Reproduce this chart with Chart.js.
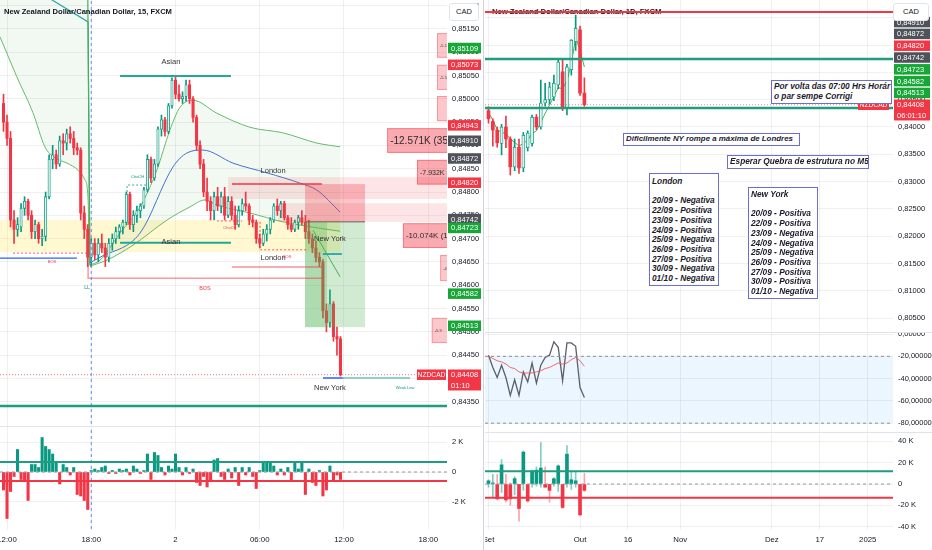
<!DOCTYPE html>
<html><head><meta charset="utf-8">
<script src="https://cdn.jsdelivr.net/npm/chart.js@4.4.1/dist/chart.umd.min.js"></script>
<style>
html,body{margin:0;padding:0;background:#fff;width:932px;height:550px;overflow:hidden;font-family:"Liberation Sans",Arial,sans-serif;}
canvas{position:absolute;}
.title{position:absolute;font-size:7.6px;font-weight:600;color:#131722;line-height:10px;white-space:nowrap;}
.cad{position:absolute;top:3px;height:18px;box-sizing:border-box;border:1px solid #e0e3eb;border-radius:3px;background:#fff;font-size:7.5px;color:#131722;line-height:16px;text-align:center;}
.sep{position:absolute;background:#e0e3eb;}
.note{position:absolute;box-sizing:border-box;border:1px solid #6d6dd9;background:#fff;font:italic bold 8.3px "Liberation Sans",Arial,sans-serif;color:#1b1b2b;line-height:9.7px;white-space:pre;overflow:hidden;padding:1px 2px;}
</style></head><body>

<div class="title" style="left:492px;top:7px;z-index:0">New Zealand Dollar/Canadian Dollar, 1D, FXCM</div>

<canvas id="lMain" width="482" height="426" style="left:0;top:0"></canvas>
<canvas id="lDelta" width="482" height="124" style="left:0;top:426px"></canvas>
<canvas id="rMain" width="447" height="332" style="left:485px;top:0"></canvas>
<canvas id="rWr" width="447" height="100" style="left:485px;top:332px"></canvas>
<canvas id="rDelta" width="447" height="118" style="left:485px;top:432px"></canvas>

<div class="title" style="left:4px;top:7px">New Zealand Dollar/Canadian Dollar, 15, FXCM</div>
<div class="cad" style="left:449px;width:30px">CAD</div>
<div class="cad" style="left:893px;width:36px">CAD</div>
<div class="sep" style="left:0;top:426px;width:482px;height:1px"></div>
<div class="sep" style="left:483px;top:0;width:1px;height:550px;background:#d1d4dc"></div>
<div class="sep" style="left:485px;top:332px;width:447px;height:1px"></div>
<div class="sep" style="left:485px;top:432px;width:447px;height:1px"></div>

<div class="note" style="left:771px;top:80px;width:121px;height:24px;padding-top:1px">Por volta das 07:00 Hrs Horár
o par sempe Corrigi</div>
<div class="note" style="left:623px;top:133px;width:177px;height:13px;padding-top:0;font-size:7.9px">Dificilmente NY rompe a máxima de Londres</div>
<div class="note" style="left:727px;top:155px;width:142px;height:14px;padding-top:1px">Esperar Quebra de estrutura no M5</div>
<div class="note" style="left:649px;top:173px;width:70px;height:113px;padding-top:3px">London

20/09 - Negativa
22/09 - Positiva
23/09 - Positiva
24/09 - Positiva
25/09 - Negativa
26/09 - Positiva
27/09 - Positiva
30/09 - Negativa
01/10 - Negativa</div>
<div class="note" style="left:748px;top:187px;width:70px;height:112px;padding-top:2px">New York

20/09 - Positiva
22/09 - Positiva
23/09 - Negativa
24/09 - Negativa
25/09 - Negativa
26/09 - Positiva
27/09 - Positiva
30/09 - Positiva
01/10 - Negativa</div>

<script>
// ================= DATA =================
// ---- 15 min chart (index 0 = 12:00 day 1, one unit = 15 min) ----
const lStart = -1;
const lOpen = [
 .84990,.84950,.84915,.84740,.84720,.84725,.84765,.84780,.84750,.84715,
 .84730,.84700,.84705,.84790,.84870,.84880,.84860,.84910,.84905,.84925,
 .84915,.84895,.84890,.84755,.84720,.84660,.84690,.84665,.84690,.84680,
 .84660,.84690,.84700,.84715,.84725,.84735,.84795,.84730,.84750,.84760,
 .84770,.84805,.84870,.84830,.84860,.84935,.84955,.84930,.84985,.85040,
 .85010,.85000,.85005,.85030,.85000,.84960,.84900,.84860,.84800,.84780,
 .84760,.84790,.84770,.84790,.84750,.84780,.84750,.84730,.84760,.84775,
 .84770,.84740,.84735,.84700,.84690,.84710,.84720,.84740,.84770,.84760,
 .84775,.84745,.84730,.84720,.84735,.84745,.84735,.84715,.84700,.84680,
 .84660,.84650,.84545,.84520,.84560,.84490,.84485];
const lHigh = [
 .85010,.84965,.84930,.84760,.84745,.84775,.84790,.84785,.84760,.84740,
 .84735,.84720,.84800,.84880,.84900,.84890,.84920,.84925,.84935,.84940,
 .84930,.84905,.84895,.84770,.84730,.84700,.84700,.84700,.84710,.84690,
 .84700,.84710,.84725,.84730,.84740,.84800,.84800,.84760,.84770,.84775,
 .84810,.84880,.84875,.84870,.84940,.84965,.84960,.84990,.85045,.85050,
 .85030,.85015,.85040,.85040,.85005,.84965,.84910,.84870,.84830,.84790,
 .84800,.84810,.84800,.84810,.84790,.84790,.84770,.84770,.84785,.84800,
 .84775,.84750,.84740,.84710,.84720,.84730,.84745,.84775,.84785,.84780,
 .84780,.84750,.84745,.84740,.84750,.84760,.84750,.84740,.84710,.84695,
 .84670,.84655,.84560,.84590,.84565,.84510,.84490];
const lLow = [
 .84930,.84900,.84725,.84690,.84705,.84715,.84750,.84740,.84700,.84700,
 .84690,.84685,.84695,.84785,.84850,.84850,.84855,.84880,.84890,.84905,
 .84880,.84880,.84740,.84700,.84640,.84640,.84655,.84650,.84670,.84640,
 .84650,.84675,.84690,.84700,.84710,.84730,.84720,.84715,.84735,.84745,
 .84765,.84800,.84820,.84825,.84855,.84920,.84920,.84925,.84980,.85000,
 .84995,.84990,.84995,.84990,.84950,.84890,.84850,.84790,.84760,.84740,
 .84740,.84760,.84755,.84740,.84745,.84740,.84720,.84725,.84750,.84760,
 .84730,.84725,.84690,.84680,.84685,.84695,.84710,.84735,.84750,.84745,
 .84740,.84720,.84715,.84715,.84720,.84730,.84700,.84690,.84670,.84650,
 .84640,.84530,.84500,.84510,.84480,.84450,.84405];
const lClose = [
 .84950,.84915,.84740,.84720,.84730,.84765,.84780,.84750,.84715,.84730,
 .84700,.84705,.84790,.84870,.84880,.84860,.84910,.84905,.84925,.84915,
 .84895,.84890,.84755,.84720,.84660,.84690,.84665,.84690,.84680,.84660,
 .84690,.84700,.84715,.84725,.84735,.84795,.84730,.84750,.84760,.84770,
 .84805,.84870,.84830,.84860,.84935,.84955,.84930,.84985,.85040,.85010,
 .85000,.85005,.85030,.85000,.84960,.84900,.84860,.84800,.84780,.84760,
 .84790,.84770,.84790,.84750,.84780,.84750,.84730,.84760,.84775,.84770,
 .84740,.84735,.84700,.84690,.84710,.84720,.84740,.84770,.84760,.84775,
 .84745,.84730,.84720,.84735,.84745,.84735,.84715,.84700,.84680,.84660,
 .84650,.84545,.84520,.84560,.84490,.84485,.84408];
const lDelta = [
 -1200,-3100,-1300,-300,1500,-500,-600,-1900,500,500,
 300,2300,1700,1500,1200,700,-800,500,300,-200,
 300,-1500,-1600,-1900,-2500,100,200,100,300,400,
 -100,100,-100,200,100,200,-200,400,200,-100,
 100,1200,-500,1300,1100,300,-200,400,200,1200,
 300,-200,300,-100,200,-700,-900,-300,-1000,-600,
 800,900,-300,-500,200,-400,300,-900,300,-200,
 300,-300,-1100,100,700,700,600,400,-200,200,
 -200,300,-600,600,200,700,-1500,200,-700,-900,
 100,-1600,-1200,400,-600,-200,-500];
const lDeltaUpper = 670, lDeltaLower = -600;
const lTimeTicks = [0,24,48,72,96,120];
const lTimeLabels = ['12:00','18:00','2','06:00','12:00','18:00'];
const lPriceTicks = [0.8435,0.844,0.8445,0.845,0.8455,0.846,0.8465,0.847,0.8475,0.848,0.8485,0.849,0.8495,0.85,0.8505,0.851,0.8515,0.852];
const lDeltaTicks = [-2000,0,2000];
// VWAP bands [bar index, price]
const vw1Lower = [[-2,.85133],[2.8,.85047],[7.4,.84970],[10.8,.84897],[13.7,.84873],[17.1,.84862],[20.2,.84847],[22.2,.84826],[23.1,.84783],[23.4,.84643]];
const vw1Upper = [[23.0,.85230],[23.6,.84643]];
const vw1Mid = [[12.2,.85215],[23.1,.85165],[23.6,.84648]];
const vw2Upper = [[23.6,.84643],[26.5,.84654],[32.2,.84712],[37.9,.84768],[42.7,.84847],[46.4,.84933],[49.3,.84982],[53,.84997],[59.8,.84969],[69.2,.84939],[78.6,.84927],[88.3,.84905],[94.9,.84897]];
const vw2Mid = [[23.6,.84648],[26.5,.84660],[37.9,.84712],[47.3,.84854],[51.3,.84884],[55.8,.84890],[64.4,.84862],[74.1,.84841],[83.5,.84819],[88.3,.84804],[94.9,.84757]];
const vw2Lower = [[23.6,.84641],[28.5,.84654],[35.9,.84686],[45.6,.84740],[52.1,.84768],[56.4,.84783],[59.8,.84772],[69.2,.84755],[78.6,.84736],[92.9,.84718],[94.9,.84716]];
const lLastPrice = 0.84408;

// ---- Daily chart (index 0 = 01 Oct, one unit = one trading day) ----
const dStart = -21;
const dOpen  = [.84300,.84100,.83945,.83700,.84000,.83780,.83270,.83630,.83250,.83620,.83700,.84180,.84000,.84440,.84500,.84550,.84770,.85010,.84350,.85050,.85560,.85780,.84620];
const dHigh  = [.84370,.84150,.84000,.84050,.84200,.83820,.83780,.83780,.83900,.83930,.84220,.84230,.84860,.84800,.84820,.84950,.85250,.85250,.85150,.85600,.86050,.85850,.84900];
const dLow   = [.84070,.83650,.83630,.83490,.83620,.83120,.83200,.83150,.83180,.83560,.83650,.83950,.83960,.84380,.84420,.84480,.84700,.84300,.84220,.84950,.85400,.84580,.84380];
const dClose = [.84150,.83945,.83710,.84000,.83780,.83270,.83630,.83250,.83850,.83890,.84180,.84000,.84440,.84500,.84730,.84800,.85190,.84350,.85100,.85590,.85810,.84620,.84408];
const dEma   = [.84260,.84130,.83950,.83900,.83880,.83780,.83720,.83650,.83700,.83760,.83880,.83930,.84080,.84250,.84400,.84560,.84720,.84700,.84850,.85150,.85640,.85400,.85100];
const dWr    = [-19,-30,-39,-28,-39,-55,-41,-55,-34,-43,-26,-44,-28,-21,-19,-7,-12,-42,-8,-8,-11,-48,-57];
const dWrMa  = [-20,-22,-24,-25,-27,-30,-31,-34,-35,-35,-35,-34,-33,-31,-30,-28,-26,-27,-26,-23,-21,-24,-29];
const dDelta = [3000,1000,-14000,18000,-15000,-14000,5000,-23000,30000,-16000,12000,13000,15000,-3000,-6000,5000,17000,-22000,28000,4000,3000,-29000,-6000];
const dDeltaHi = [4000,9000,9000,23000,9000,1000,7000,0,31000,0,13000,16000,39000,16000,0,6000,18000,0,36000,11000,12000,0,10000];
const dDeltaLo = [-3000,-13000,-15000,-8000,-17000,-20000,-10000,-35000,-6000,-17000,-3000,-2000,-3000,-3000,-17000,-2000,-7000,-23000,-3000,-5000,-3000,-30000,-7000];
const dDeltaUpper = 12000, dDeltaLower = -13000;
const dTimeTicks = [-21,0,11,23,44,55,66];
const dTimeLabels = ['Set','Out','16','Nov','Dez','17','2025'];
const dPriceTicks = [0.805,0.81,0.815,0.82,0.825,0.83,0.835,0.84,0.845,0.85,0.855,0.86];
const dWrTicks = [0,-20,-40,-60,-80];
const dDeltaTicks = [-40000,-20000,0,20000,40000];
const dLevelRed = 0.86105, dLevelTealHi = 0.85244, dLevelTealLo = 0.84348;

// ================= STYLE =================
const FONT = '"Liberation Sans", Arial, sans-serif';
const UP = '#089981', DN = '#f23645', UPFILL = '#e0f2ee';
const TEAL = '#1f9d7f', GRID = 'rgba(42,46,57,0.07)';
const TG = '#17a637', TR = '#f23645', DK = '#4f5258';
Chart.defaults.font.family = FONT;
Chart.defaults.font.size = 7.5;

const fmtP = v => v.toFixed(5).replace('.', ',');
const fmtK = v => v === 0 ? '0' : (v / 1000) + ' K';

// ================= OVERLAY PLUGIN =================
const OV = {};
function clipArea(ch){const a=ch.chartArea,c=ch.ctx;c.save();c.beginPath();c.rect(a.left,a.top,a.width,a.height);c.clip();}
function X(ch,v){return v==null?null:ch.scales.x.getPixelForValue(v);}
function Y(ch,v){return ch.scales.y.getPixelForValue(v);}
function drawBoxes(ch,list){
  if(!list)return; const a=ch.chartArea,c=ch.ctx; clipArea(ch);
  for(const b of list){
    const x0=b.x0==null?a.left:X(ch,b.x0), x1=b.x1==null?a.right:X(ch,b.x1);
    const y0=Y(ch,b.y0), y1=Y(ch,b.y1), t=Math.min(y0,y1), h=Math.abs(y1-y0);
    c.fillStyle=b.fill; c.fillRect(x0,t,x1-x0,h);
    if(b.stroke){c.strokeStyle=b.stroke;c.lineWidth=1;c.strokeRect(x0+0.5,t+0.5,x1-x0,h-1);}
    if(b.t){c.fillStyle=b.tc||'#3a3a3a';c.font=(b.s||4.5)+'px '+FONT;c.textBaseline='middle';c.textAlign='left';c.fillText(b.t,x0+3,t+h/2+0.5);}
  }
  c.restore();
}
function drawSegs(ch,list){
  if(!list)return; const c=ch.ctx; clipArea(ch);
  for(const s of list){
    c.beginPath(); c.strokeStyle=s.c; c.lineWidth=s.w||1; c.setLineDash(s.d||[]);
    s.pts.forEach(([x,y],k)=>{const px=X(ch,x),py=Y(ch,y); k?c.lineTo(px,py):c.moveTo(px,py);});
    c.stroke();
  }
  c.setLineDash([]); c.restore();
}
function drawTexts(ch,list){
  if(!list)return; const c=ch.ctx; clipArea(ch);
  for(const t of list){
    c.fillStyle=t.c||'#333'; c.font=(t.b?'bold ':'')+(t.s||7.5)+'px '+FONT;
    c.textAlign=t.a||'center'; c.textBaseline='middle'; c.fillText(t.t,X(ch,t.x),Y(ch,t.y));
  }
  c.restore();
}
function tagAt(ch,y,lines,bg,x0,x1,center,fs){
  const c=ch.ctx, lh=10.5, h=lh*lines.length;
  c.fillStyle=bg; c.fillRect(x0,y-lh/2,x1-x0,h);
  c.fillStyle='#fff'; c.font=(fs||7.5)+'px '+FONT; c.textAlign=center?'center':'left'; c.textBaseline='middle';
  lines.forEach((s,k)=>c.fillText(s,center?(x0+x1)/2:x0+3,y+k*lh+0.5));
}
function drawTags(ch,o){
  const a=ch.chartArea;
  (o.tags||[]).forEach(t=>{const L=Array.isArray(t.t)?t.t:[t.t]; tagAt(ch,Y(ch,t.p),L,t.bg,a.right+1,ch.width-1);});
  (o.inTags||[]).forEach(t=>{tagAt(ch,Y(ch,t.p),[t.t],t.bg,a.right-t.w-t.g,a.right-t.g,true,6.7);});
  if(o.stack){const s=o.stack, y0=Y(ch,s.anchor), n=s.items.length;
    s.items.forEach((t,k)=>{const L=Array.isArray(t.t)?t.t:[t.t]; tagAt(ch,y0-(n-1-k)*s.sp,L,t.bg,a.right+1,ch.width-2);});}
}
const ovPlugin = {
  id:'ov',
  beforeDatasetsDraw(ch){const o=OV[ch.canvas.id]; if(o) drawBoxes(ch,o.under);},
  afterDatasetsDraw(ch){const o=OV[ch.canvas.id]; if(!o)return; drawBoxes(ch,o.boxes); drawSegs(ch,o.segs); drawTexts(ch,o.texts);},
  afterDraw(ch){const o=OV[ch.canvas.id]; if(o) drawTags(ch,o);}
};
Chart.register(ovPlugin);

// ================= HELPERS =================
function candleSets(start,o,h,l,c,bw){
  const xs=o.map((_,k)=>start+k), isUp=k=>c[k]>=o[k];
  return [
    {type:'bar',data:xs.map((x,k)=>({x,y:[l[k],h[k]]})),backgroundColor:xs.map((_,k)=>isUp(k)?UP:DN),barThickness:1,grouped:false,order:3},
    {type:'bar',data:xs.map((x,k)=>({x,y:[o[k],c[k]]})),backgroundColor:xs.map((_,k)=>isUp(k)?UPFILL:DN),
     borderColor:xs.map((_,k)=>isUp(k)?UP:DN),borderWidth:xs.map((_,k)=>isUp(k)?0.8:0),borderSkipped:false,
     barThickness:bw,grouped:false,minBarLength:1,order:2}
  ];
}
function lineSet(pts,color,w,extra){
  return Object.assign({type:'line',data:pts.map(([x,y])=>({x,y})),borderColor:color,borderWidth:w,pointRadius:0,
    fill:false,order:10,cubicInterpolationMode:'monotone'},extra||{});
}
function seriesSet(start,vals,color,w){return lineSet(vals.map((v,k)=>[start+k,v]),color,w,{cubicInterpolationMode:'default',tension:0});}
function deltaSets(start,vals,bw,hi,lo){
  const xs=vals.map((_,k)=>start+k), sets=[];
  if(hi) sets.push({type:'bar',data:xs.map((x,k)=>({x,y:[lo[k],hi[k]]})),backgroundColor:xs.map((_,k)=>vals[k]>=0?'rgba(8,153,129,0.5)':'rgba(242,54,69,0.45)'),barThickness:1,grouped:false,order:3});
  sets.push({type:'bar',data:xs.map((x,k)=>({x,y:[0,vals[k]]})),backgroundColor:xs.map((_,k)=>vals[k]>=0?UP:DN),barThickness:bw,grouped:false,minBarLength:1,order:2});
  return sets;
}
function noPad(s){s.paddingLeft=0;s.paddingRight=0;s.paddingTop=0;s.paddingBottom=0;}
function opts(c){
  return {
    responsive:false, animation:false, events:[],
    layout:{padding:0, autoPadding:false},
    plugins:{legend:{display:false}, tooltip:{enabled:false}},
    scales:{
      x:{type:'linear', min:c.xmin, max:c.xmax, offset:false, bounds:'data',
         afterBuildTicks:s=>{s.ticks=c.xt.map(v=>({value:v}));},
         afterFit:s=>{s.height=c.showX?20:0; noPad(s);},
         ticks:{display:!!c.showX, autoSkip:false, maxRotation:0, padding:5, color:'#131722', font:{size:7.8},
                callback:v=>{const i=c.xt.indexOf(v); return i<0?'':c.xl[i];}},
         grid:{color:GRID, drawTicks:false, offset:false}, border:{display:false}},
      y:{type:'linear', position:'right', min:c.ymin, max:c.ymax, bounds:'data',
         afterBuildTicks:s=>{s.ticks=c.yt.map(v=>({value:v}));},
         afterFit:s=>{s.width=c.aw; noPad(s);},
         ticks:{padding:5, color:'#131722', font:{size:7.5}, callback:c.yf},
         grid:{color:GRID, drawTicks:false}, border:{display:false}}
    }
  };
}

// ================= LEFT 15m =================
const LX0=-2, LX1=125.35;
OV.lMain = {
  under:[{x0:-2,x1:95,y0:.84740,y1:.84671,fill:'rgba(255,226,60,0.24)'}],
  boxes:[
    {x0:63,x1:null,y0:.84832,y1:.84785,fill:'rgba(242,54,69,0.13)'},
    {x0:77.2,x1:null,y0:.84776,y1:.84736,fill:'rgba(242,54,69,0.13)'},
    {x0:84.9,x1:102,y0:.84817,y1:.84736,fill:'rgba(242,54,69,0.30)'},
    {x0:84.9,x1:91.2,y0:.84736,y1:.84510,fill:'rgba(76,175,80,0.45)'},
    {x0:91.2,x1:102,y0:.84736,y1:.84510,fill:'rgba(76,175,80,0.26)'},
    {x0:122.5,x1:null,y0:.85141,y1:.85088,fill:'rgba(242,54,69,0.28)',stroke:'rgba(242,54,69,0.35)',t:'-5.1',s:4},
    {x0:122.5,x1:null,y0:.85073,y1:.85019,fill:'rgba(242,54,69,0.28)',stroke:'rgba(242,54,69,0.35)',t:'-5.52',s:4},
    {x0:122.5,x1:null,y0:.85006,y1:.84952,fill:'rgba(242,54,69,0.28)',stroke:'rgba(242,54,69,0.35)'},
    {x0:108.3,x1:null,y0:.84937,y1:.84884,fill:'rgba(242,54,69,0.42)',stroke:'rgba(242,54,69,0.45)',t:'-12.571K (35',s:10,tc:'#2a2a2a'},
    {x0:116.8,x1:null,y0:.84869,y1:.84816,fill:'rgba(242,54,69,0.42)',stroke:'rgba(242,54,69,0.45)',t:'-7.932K (',s:7,tc:'#2a2a2a'},
    {x0:112.8,x1:null,y0:.84733,y1:.84680,fill:'rgba(242,54,69,0.42)',stroke:'rgba(242,54,69,0.45)',t:'-10.074K (1',s:8,tc:'#2a2a2a'},
    {x0:123.4,x1:null,y0:.84665,y1:.84609,fill:'rgba(242,54,69,0.28)',stroke:'rgba(242,54,69,0.35)',t:'-4.9',s:4},
    {x0:121,x1:null,y0:.84530,y1:.84476,fill:'rgba(242,54,69,0.28)',stroke:'rgba(242,54,69,0.35)',t:'-5.9',s:4}
  ],
  segs:[
    {pts:[[24,.8530],[24,.8425]],c:'#5d8ef0',w:1,d:[3,3]},
    {pts:[[32.2,.85049],[63.8,.85049]],c:'#22a995',w:2},
    {pts:[[32.2,.84691],[63.8,.84691]],c:'#22a995',w:2},
    {pts:[[64.1,.84817],[89.7,.84817]],c:'#f23645',w:1.5},
    {pts:[[64.1,.84639],[89.7,.84639]],c:'rgba(242,54,69,0.55)',w:1.5},
    {pts:[[23.1,.84643],[23.1,.84615],[89.7,.84615]],c:'rgba(242,54,69,0.5)',w:1.5},
    {pts:[[1.7,.84669],[23.1,.84669]],c:'#f23645',w:0.8,d:[2,2]},
    {pts:[[-2,.84658],[19.9,.84658]],c:'#2962ff',w:1.2},
    {pts:[[34.2,.84800],[34.2,.84815],[40.2,.84815]],c:'#089981',w:0.8,d:[2,2]},
    {pts:[[59.8,.84738],[67,.84738]],c:'#f23645',w:0.8,d:[2,2]},
    {pts:[[72.1,.84736],[72.1,.84676],[85.5,.84676]],c:'#f23645',w:0.8,d:[2,2]},
    {pts:[[84.9,.84736],[102,.84736]],c:'#5f6368',w:1},
    {pts:[[90,.84667],[95.4,.84667]],c:'#0097a7',w:1.5},
    {pts:[[87.2,.84718],[94.9,.84618]],c:'#4caf50',w:1},
    {pts:[[90,.84401],[95.7,.84401]],c:'#2962ff',w:1.5},
    {pts:[[95.7,.84401],[114.8,.84401]],c:'#22ab94',w:1},
    {pts:[[LX0,.84341],[LX1,.84341]],c:TEAL,w:2.5},
    {pts:[[LX0,lLastPrice],[LX1,lLastPrice]],c:'rgba(242,54,69,0.7)',w:1,d:[1,2]}
  ],
  texts:[
    {x:46.7,y:.85079,t:'Asian'},{x:46.7,y:.84693,t:'Asian'},
    {x:75.8,y:.84845,t:'London'},{x:75.8,y:.84658,t:'London'},
    {x:92,y:.84699,t:'New York'},{x:92,y:.84379,t:'New York'},
    {x:56.4,y:.84592,t:'BOS',s:5.5,c:'#f23645'},{x:12.8,y:.84650,t:'BOS',s:4,c:'#f23645'},
    {x:22.8,y:.84594,t:'LL',s:5,c:'#089981'},{x:37.2,y:.84832,t:'ChoCH',s:4,c:'#089981'},
    {x:63.5,y:.84723,t:'ChoCH',s:4,c:'#f23645'},{x:79.8,y:.84660,t:'BOS',s:4,c:'#f23645'},
    {x:113.4,y:.84379,t:'Weak Low',s:4,c:'#089981'}
  ],
  tags:[
    {p:.85109,t:'0,85109',bg:TG},{p:.85073,t:'0,85073',bg:TR},{p:.84943,t:'0,84943',bg:TR},
    {p:.84910,t:'0,84910',bg:DK},{p:.84872,t:'0,84872',bg:DK},{p:.84820,t:'0,84820',bg:TR},
    {p:.84742,t:'0,84742',bg:DK},{p:.84723,t:'0,84723',bg:TG},{p:.84582,t:'0,84582',bg:TG},
    {p:.84513,t:'0,84513',bg:TG},{p:lLastPrice,t:['0,84408','01:10'],bg:TR}
  ],
  inTags:[{p:lLastPrice,t:'NZDCAD',bg:TR,w:29,g:1}]
};
const lFill='rgba(76,175,80,0.075)';
new Chart(document.getElementById('lMain'),{
  type:'bar',
  data:{datasets:[
    ...candleSets(lStart,lOpen,lHigh,lLow,lClose,2.4),
    lineSet(vw1Lower,'#66bb6a',1,{fill:'end',backgroundColor:lFill}),
    lineSet(vw1Upper,'#4caf50',1.2,{cubicInterpolationMode:'default'}),
    lineSet(vw1Mid,'#26a6b5',1.2,{cubicInterpolationMode:'default'}),
    lineSet(vw2Upper,'#66bb6a',1,{fill:7,backgroundColor:lFill}),
    lineSet(vw2Mid,'#3f6fd8',1),
    lineSet(vw2Lower,'#66bb6a',1)
  ]},
  options:opts({xmin:LX0,xmax:LX1,xt:lTimeTicks,xl:lTimeLabels,showX:false,ymin:.84298,ymax:.85212,yt:lPriceTicks,yf:fmtP,aw:35})
});

OV.lDelta = {
  segs:[
    {pts:[[24,4000],[24,-4000]],c:'#5d8ef0',w:1,d:[3,3]},
    {pts:[[LX0,0],[LX1,0]],c:'#9598a1',w:1,d:[3,3]},
    {pts:[[LX0,lDeltaUpper],[LX1,lDeltaUpper]],c:TEAL,w:2},
    {pts:[[LX0,lDeltaLower],[LX1,lDeltaLower]],c:'#f23645',w:2}
  ]
};
new Chart(document.getElementById('lDelta'),{
  type:'bar',
  data:{datasets:deltaSets(lStart,lDelta,2.4)},
  options:opts({xmin:LX0,xmax:LX1,xt:lTimeTicks,xl:lTimeLabels,showX:true,ymin:-3867,ymax:3067,yt:lDeltaTicks,yf:fmtK,aw:35})
});

// ================= RIGHT 1D =================
const RX0=-21.8, RX1=71.8;
OV.rMain = {
  segs:[
    {pts:[[RX0,dLevelRed],[RX1,dLevelRed]],c:'#f23645',w:2},
    {pts:[[RX0,dLevelTealHi],[RX1,dLevelTealHi]],c:TEAL,w:2.5},
    {pts:[[RX0,dLevelTealLo],[RX1,dLevelTealLo]],c:TEAL,w:2.5},
    {pts:[[RX0,lLastPrice],[RX1,lLastPrice]],c:'rgba(242,54,69,0.6)',w:1,d:[1,2]}
  ],
  stack:{anchor:lLastPrice,sp:11.8,items:[
    {t:'0,84910',bg:DK},{t:'0,84872',bg:DK},{t:'0,84820',bg:TR},{t:'0,84742',bg:DK},
    {t:'0,84723',bg:TG},{t:'0,84582',bg:TG},{t:'0,84513',bg:TG},{t:['0,84408','06:01:10'],bg:TR}]},
  inTags:[{p:lLastPrice,t:'NZDCAD',bg:TR,w:31,g:4}]
};
new Chart(document.getElementById('rMain'),{
  type:'bar',
  data:{datasets:[
    ...candleSets(dStart,dOpen,dHigh,dLow,dClose,3),
    seriesSet(dStart,dEma,'#4caf50',1)
  ]},
  options:opts({xmin:RX0,xmax:RX1,xt:dTimeTicks,xl:dTimeLabels,showX:false,ymin:.80245,ymax:.86326,yt:dPriceTicks,yf:fmtP,aw:39})
});

OV.rWr = {
  under:[{x0:null,x1:null,y0:-20,y1:-80,fill:'rgba(33,150,243,0.09)'}],
  segs:[
    {pts:[[RX0,-20],[RX1,-20]],c:'#8a8d96',w:1,d:[3,3]},
    {pts:[[RX0,-80],[RX1,-80]],c:'#8a8d96',w:1,d:[3,3]}
  ]
};
new Chart(document.getElementById('rWr'),{
  type:'line',
  data:{datasets:[
    Object.assign(seriesSet(dStart,dWr,'#5d5f66',1.3),{order:2}),
    Object.assign(seriesSet(dStart,dWrMa,'rgba(242,80,80,0.85)',1),{order:1})
  ]},
  options:opts({xmin:RX0,xmax:RX1,xt:dTimeTicks,xl:dTimeLabels,showX:false,ymin:-87.9,ymax:1.8,yt:dWrTicks,yf:fmtP,aw:39})
});

OV.rDelta = {
  segs:[
    {pts:[[RX0,0],[RX1,0]],c:'#9598a1',w:1,d:[3,3]},
    {pts:[[RX0,dDeltaUpper],[RX1,dDeltaUpper]],c:TEAL,w:2},
    {pts:[[RX0,dDeltaLower],[RX1,dDeltaLower]],c:'#f23645',w:2}
  ]
};
new Chart(document.getElementById('rDelta'),{
  type:'bar',
  data:{datasets:deltaSets(dStart,dDelta,3,dDeltaHi,dDeltaLo)},
  options:opts({xmin:RX0,xmax:RX1,xt:dTimeTicks,xl:dTimeLabels,showX:true,ymin:-43192,ymax:48826,yt:dDeltaTicks,yf:fmtK,aw:39})
});
</script>
</body></html>
